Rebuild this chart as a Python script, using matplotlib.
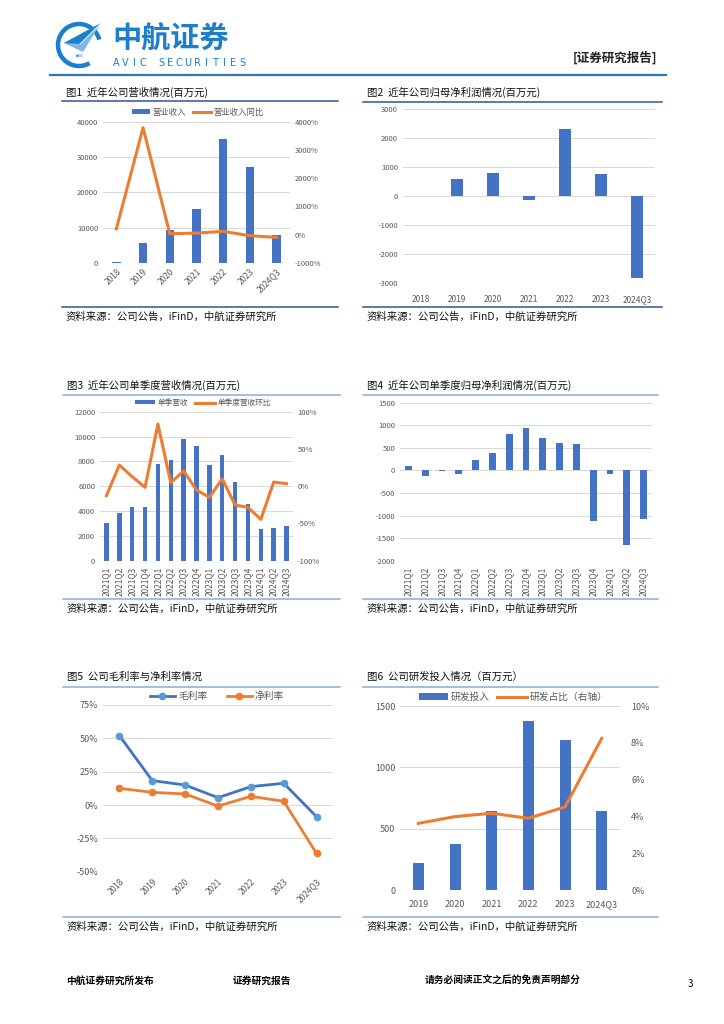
import numpy as np
import matplotlib
matplotlib.use('Agg')
import matplotlib.pyplot as plt
from matplotlib import patches
from matplotlib.ticker import FuncFormatter, MultipleLocator

plt.rcParams['font.family'] = ['Noto Sans CJK SC', 'DejaVu Sans']
plt.rcParams['axes.unicode_minus'] = False

W, H = 724, 1024
BLUE = '#4472C4'
ORANGE = '#ED7D31'
LBLUE = '#5B9BD5'
GRID = '#D9D9D9'
TXT = '#595959'
LOGO = '#1B7FCC'

# data
years = ['2018', '2019', '2020', '2021', '2022', '2023', '2024Q3']
revenue = [150, 5800, 9400, 15400, 35100, 27100, 7800]           # 百万元
revenue_yoy = [210, 3790, 35, 60, 118, -35, -94]                  # %
net_profit = [10, 590, 800, -130, 2320, 750, -2850]               # 百万元

quarters = ['2021Q1', '2021Q2', '2021Q3', '2021Q4', '2022Q1', '2022Q2', '2022Q3', '2022Q4',
            '2023Q1', '2023Q2', '2023Q3', '2023Q4', '2024Q1', '2024Q2', '2024Q3']
q_revenue = [3000, 3870, 4350, 4300, 7810, 8130, 9830, 9240, 7730, 8480, 6360, 4560, 2520, 2660, 2770]
q_revenue_qoq = [-12.8, 28.4, 12.8, -1.6, 83.4, 4.7, 20.4, -5.1, -15.0, 10.0, -25.3, -28.4, -44.5, 5.6, 3.4]
q_net_profit = [96, -118, -15, -74, 236, 377, 805, 945, 709, 613, 583, -1123, -81, -1647, -1078]

gross_margin = [52.0, 18.3, 15.0, 5.5, 13.8, 16.3, -8.8]
net_margin = [12.5, 9.5, 8.3, -0.8, 6.5, 2.8, -36.3]

rd_years = ['2019', '2020', '2021', '2022', '2023', '2024Q3']
rd_spend = [220, 378, 647, 1375, 1220, 647]
rd_ratio = [3.62, 3.99, 4.17, 3.90, 4.51, 8.24]

source = '资料来源：公司公告，iFinD，中航证券研究所'


def box(x0, y0, x1, y1):
    return [x0 / W, 1 - y1 / H, (x1 - x0) / W, (y1 - y0) / H]


def style(ax, grid=True):
    for s in ax.spines.values():
        s.set_visible(False)
    ax.tick_params(length=0, colors=TXT, labelsize=5.5)
    if grid:
        ax.grid(axis='y', color=GRID, lw=0.7)
    ax.set_axisbelow(True)


def pct(v, p):
    return '%d%%' % round(v)


fig = plt.figure(figsize=(W / 100, H / 100), dpi=100)

# page decoration layer
ov = fig.add_axes([0, 0, 1, 1])
ov.set_xlim(0, W)
ov.set_ylim(H, 0)
ov.axis('off')

# logo
ov.add_patch(patches.Arc((79, 45), 42, 42, theta1=60, theta2=345, color=LOGO, lw=3.2))
ov.add_patch(patches.Polygon([(64, 43), (101, 23), (83, 52)], closed=True, color='#7FB8E6', lw=0))
ov.add_patch(patches.Polygon([(64, 43), (101, 23), (80, 44)], closed=True, color=LOGO, lw=0))
ov.plot([80, 101], [44, 23], color='white', lw=0.6)
ov.text(79, 56, 'AVIC', fontsize=2.5, color=LOGO, ha='center', va='center', fontweight='bold')
ov.text(112, 39, '中航证券', fontsize=21, color=LOGO, fontweight='heavy', ha='left', va='center')
avic = 'AVIC SECURITIES'
for i, ch in enumerate(avic):
    ov.text(116 + i * 9.0, 63.5, ch, fontsize=7, color=LOGO, ha='center', va='center', family='DejaVu Sans')
ov.text(657, 58, '[证券研究报告]', fontsize=9, fontweight='bold', ha='right', va='center', color='#222222')
ov.plot([50, 666], [75, 75], color='#2E75B6', lw=1.6)

# footer
ov.text(66, 981, '中航证券研究所发布', fontsize=7, fontweight='bold', va='center')
ov.text(233, 981, '证券研究报告', fontsize=7, fontweight='bold', va='center')
ov.text(425, 981, '请务必阅读正文之后的免责声明部分', fontsize=7, fontweight='bold', va='center')
ov.text(688, 984, '3', fontsize=7, va='center')


def frame(x0, x1, ytitle, yline, ybottom, title, color):
    ov.text(x0 + 4, ytitle, title, fontsize=7.5, va='center', ha='left', color='#111111')
    ov.plot([x0, x1], [yline, yline], color=color, lw=1.1)
    ov.plot([x0, x1], [ybottom, ybottom], color=color, lw=1.1)
    ov.text(x0 + 4, ybottom + 10, source, fontsize=7.5, va='center', ha='left', color='#111111')


frame(62, 338, 92, 101, 307, '图1  近年公司营收情况(百万元)', '#2F5597')
frame(363, 662, 92, 102, 307, '图2  近年公司归母净利润情况(百万元)', '#2F5597')
frame(63, 340, 385, 395, 599, '图3  近年公司单季度营收情况(百万元)', '#8FAADC')
frame(363, 658, 385, 395, 599, '图4  近年公司单季度归母净利润情况(百万元)', '#8FAADC')
frame(63, 340, 677, 687, 917, '图5  公司毛利率与净利率情况', '#8FAADC')
frame(363, 658, 677, 687, 917, '图6  公司研发投入情况（百万元）', '#8FAADC')

# ---- Fig 1
ax1 = fig.add_axes(box(103, 121.7, 290, 263))
x = np.arange(len(years))
ax1.bar(x, revenue, width=0.32, color=BLUE, label='营业收入')
ax1.set_xlim(-0.5, len(years) - 0.5)
ax1.set_ylim(0, 40000)
ax1.yaxis.set_major_locator(MultipleLocator(10000))
ax1.set_xticks(x)
ax1.set_xticklabels(years, rotation=45, ha='right', rotation_mode='anchor')
style(ax1)
ax1.tick_params(axis='x', labelsize=6, pad=3)
ax1r = ax1.twinx()
ax1r.plot(x, revenue_yoy, color=ORANGE, lw=2.2, label='营业收入同比')
ax1r.set_ylim(-1000, 4000)
ax1r.yaxis.set_major_locator(MultipleLocator(1000))
ax1r.yaxis.set_major_formatter(FuncFormatter(pct))
style(ax1r, grid=False)
h1, l1 = ax1.get_legend_handles_labels()
h2, l2 = ax1r.get_legend_handles_labels()
fig.legend(h1 + h2, l1 + l2, loc='center', bbox_to_anchor=(198 / W, 1 - 112 / H), ncol=2,
           frameon=False, fontsize=6, labelcolor=TXT, handlelength=2.2, handleheight=0.6,
           columnspacing=0.8, handletextpad=0.3)

# ---- Fig 2
ax2 = fig.add_axes(box(403, 109.3, 655, 282.7))
ax2.bar(np.arange(len(years)), net_profit, width=0.32, color=BLUE)
ax2.set_xlim(-0.5, len(years) - 0.5)
ax2.set_ylim(-3000, 3000)
ax2.yaxis.set_major_locator(MultipleLocator(1000))
ax2.set_xticks(np.arange(len(years)))
ax2.set_xticklabels(years)
style(ax2)
ax2.tick_params(axis='x', labelsize=6, pad=9)

# ---- Fig 3
ax3 = fig.add_axes(box(100, 411.7, 293, 560.7))
xq = np.arange(len(quarters))
ax3.bar(xq, q_revenue, width=0.35, color=BLUE, label='单季营收')
ax3.set_xlim(-0.5, len(quarters) - 0.5)
ax3.set_ylim(0, 12000)
ax3.yaxis.set_major_locator(MultipleLocator(2000))
ax3.set_xticks(xq)
ax3.set_xticklabels(quarters, rotation=90)
style(ax3)
ax3.tick_params(axis='x', labelsize=6, pad=4)
ax3r = ax3.twinx()
ax3r.plot(xq, q_revenue_qoq, color=ORANGE, lw=2.2, label='单季度营收环比')
ax3r.set_ylim(-100, 100)
ax3r.yaxis.set_major_locator(MultipleLocator(50))
ax3r.yaxis.set_major_formatter(FuncFormatter(pct))
style(ax3r, grid=False)
h1, l1 = ax3.get_legend_handles_labels()
h2, l2 = ax3r.get_legend_handles_labels()
fig.legend(h1 + h2, l1 + l2, loc='center', bbox_to_anchor=(203 / W, 1 - 403 / H), ncol=2,
           frameon=False, fontsize=5.5, labelcolor=TXT, handlelength=2.6, handleheight=0.5,
           columnspacing=1.0, handletextpad=0.3)

# ---- Fig 4
ax4 = fig.add_axes(box(400, 402.7, 652, 560.7))
ax4.bar(xq, q_net_profit, width=0.4, color=BLUE)
ax4.set_xlim(-0.5, len(quarters) - 0.5)
ax4.set_ylim(-2000, 1500)
ax4.yaxis.set_major_locator(MultipleLocator(500))
ax4.set_xticks(xq)
ax4.set_xticklabels(quarters, rotation=90)
style(ax4)
ax4.tick_params(axis='x', labelsize=6, pad=4)

# ---- Fig 5
ax5 = fig.add_axes(box(103, 705, 333, 871.7))
ax5.plot(x, gross_margin, color=BLUE, lw=2, marker='o', ms=4.5, mfc=LBLUE, mec=LBLUE, label='毛利率')
ax5.plot(x, net_margin, color=ORANGE, lw=2, marker='o', ms=4.5, label='净利率')
ax5.set_xlim(-0.5, len(years) - 0.5)
ax5.set_ylim(-50, 75)
ax5.yaxis.set_major_locator(MultipleLocator(25))
ax5.yaxis.set_major_formatter(FuncFormatter(pct))
ax5.set_xticks(x)
ax5.set_xticklabels(years, rotation=45, ha='right', rotation_mode='anchor')
style(ax5)
ax5.tick_params(axis='y', labelsize=6.5)
ax5.tick_params(axis='x', labelsize=6, pad=4)
ax5.legend(loc='center', bbox_to_anchor=(217 / W, 1 - 696 / H), bbox_transform=fig.transFigure,
           ncol=2, frameon=False, fontsize=7, labelcolor=TXT, handlelength=2.6,
           columnspacing=2.0, handletextpad=0.3)

# ---- Fig 6
ax6 = fig.add_axes(box(400, 706, 620, 890))
xr = np.arange(len(rd_years))
ax6.bar(xr, rd_spend, width=0.3, color=BLUE, label='研发投入')
ax6.set_xlim(-0.5, len(rd_years) - 0.5)
ax6.set_ylim(0, 1500)
ax6.yaxis.set_major_locator(MultipleLocator(500))
ax6.set_xticks(xr)
ax6.set_xticklabels(rd_years)
style(ax6)
ax6.tick_params(axis='both', labelsize=6.5)
ax6.tick_params(axis='x', pad=7)
ax6r = ax6.twinx()
ax6r.plot(xr, rd_ratio, color=ORANGE, lw=2.2, label='研发占比（右轴）')
ax6r.set_ylim(0, 10)
ax6r.yaxis.set_major_locator(MultipleLocator(2))
ax6r.yaxis.set_major_formatter(FuncFormatter(pct))
style(ax6r, grid=False)
ax6r.tick_params(axis='y', labelsize=6.5, pad=8)
h1, l1 = ax6.get_legend_handles_labels()
h2, l2 = ax6r.get_legend_handles_labels()
fig.legend(h1 + h2, l1 + l2, loc='center', bbox_to_anchor=(513 / W, 1 - 697 / H), ncol=2,
           frameon=False, fontsize=7, labelcolor=TXT, handlelength=3.0, handleheight=0.6,
           columnspacing=0.8, handletextpad=0.3)

fig.savefig('out.png', dpi=100)
